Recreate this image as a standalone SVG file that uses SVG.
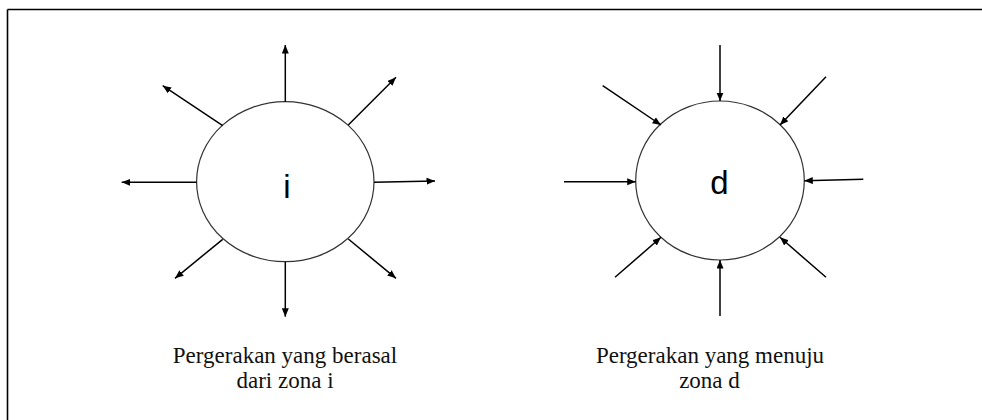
<svg xmlns="http://www.w3.org/2000/svg" width="982" height="420" viewBox="0 0 982 420">
  <style>
    .frame { stroke: #000; stroke-width: 1.6; fill: none; }
    .zone { fill: #fff; stroke: #333; stroke-width: 1.2; }
    .flow { stroke: #000; stroke-width: 1.5; fill: none; marker-end: url(#head); }
    .label { font-family: "Liberation Sans", Arial, sans-serif; font-size: 33px; fill: #000; text-anchor: middle; }
    .caption { font-family: "Liberation Serif", "Times New Roman", serif; font-size: 23px; fill: #111; text-anchor: middle; }
  </style>
  <defs>
    <marker id="head" markerUnits="userSpaceOnUse" markerWidth="9" markerHeight="8" refX="8.5" refY="3.5" orient="auto">
      <path d="M0,0 L8.5,3.5 L0,7 Z" fill="#000"/>
    </marker>
  </defs>
  <rect width="982" height="420" fill="#fff"/>

  <!-- outer frame: top and left edges -->
  <g id="frame">
    <line class="frame" x1="7.5" y1="9.5" x2="982" y2="9.5"/>
    <line class="frame" x1="7.5" y1="9.5" x2="7.5" y2="420"/>
  </g>

  <!-- origin zone i -->
  <g id="zone-i">
    <ellipse class="zone" cx="285.3" cy="181.7" rx="88.7" ry="80"/>
    <text class="label" x="287" y="198">i</text>
  </g>

  <!-- destination zone d -->
  <g id="zone-d">
    <ellipse class="zone" cx="720" cy="180.5" rx="84.3" ry="79.5"/>
    <text class="label" x="719.5" y="194">d</text>
  </g>

  <g id="connectors">
    <!-- flows leaving zone i -->
    <line class="flow" x1="285.3" y1="101.7" x2="285.3" y2="45"/>
    <line class="flow" x1="348.3" y1="125" x2="396" y2="77.3"/>
    <line class="flow" x1="374" y1="182.3" x2="435" y2="181"/>
    <line class="flow" x1="348.3" y1="239" x2="396" y2="278.3"/>
    <line class="flow" x1="285.3" y1="261.7" x2="285.3" y2="316.7"/>
    <line class="flow" x1="222.7" y1="239.3" x2="175" y2="278.3"/>
    <line class="flow" x1="196.6" y1="182.3" x2="121.7" y2="182.3"/>
    <line class="flow" x1="222.7" y1="125.7" x2="162.7" y2="85.7"/>

    <!-- flows entering zone d -->
    <line class="flow" x1="720" y1="45" x2="720" y2="101"/>
    <line class="flow" x1="826" y1="76.7" x2="780" y2="125"/>
    <line class="flow" x1="863.3" y1="179.3" x2="804.3" y2="180.8"/>
    <line class="flow" x1="826" y1="277.3" x2="780" y2="237.3"/>
    <line class="flow" x1="720" y1="316" x2="720" y2="260"/>
    <line class="flow" x1="615" y1="277.3" x2="661" y2="237.3"/>
    <line class="flow" x1="564" y1="181.7" x2="635.7" y2="181.7"/>
    <line class="flow" x1="602.7" y1="85.7" x2="661" y2="125"/>
  </g>

  <g id="captions">
    <text class="caption" x="285" y="363.3">Pergerakan yang berasal</text>
    <text class="caption" x="285" y="388.3">dari zona i</text>
    <text class="caption" x="710" y="363.3">Pergerakan yang menuju</text>
    <text class="caption" x="709.5" y="388.3">zona d</text>
  </g>
</svg>
